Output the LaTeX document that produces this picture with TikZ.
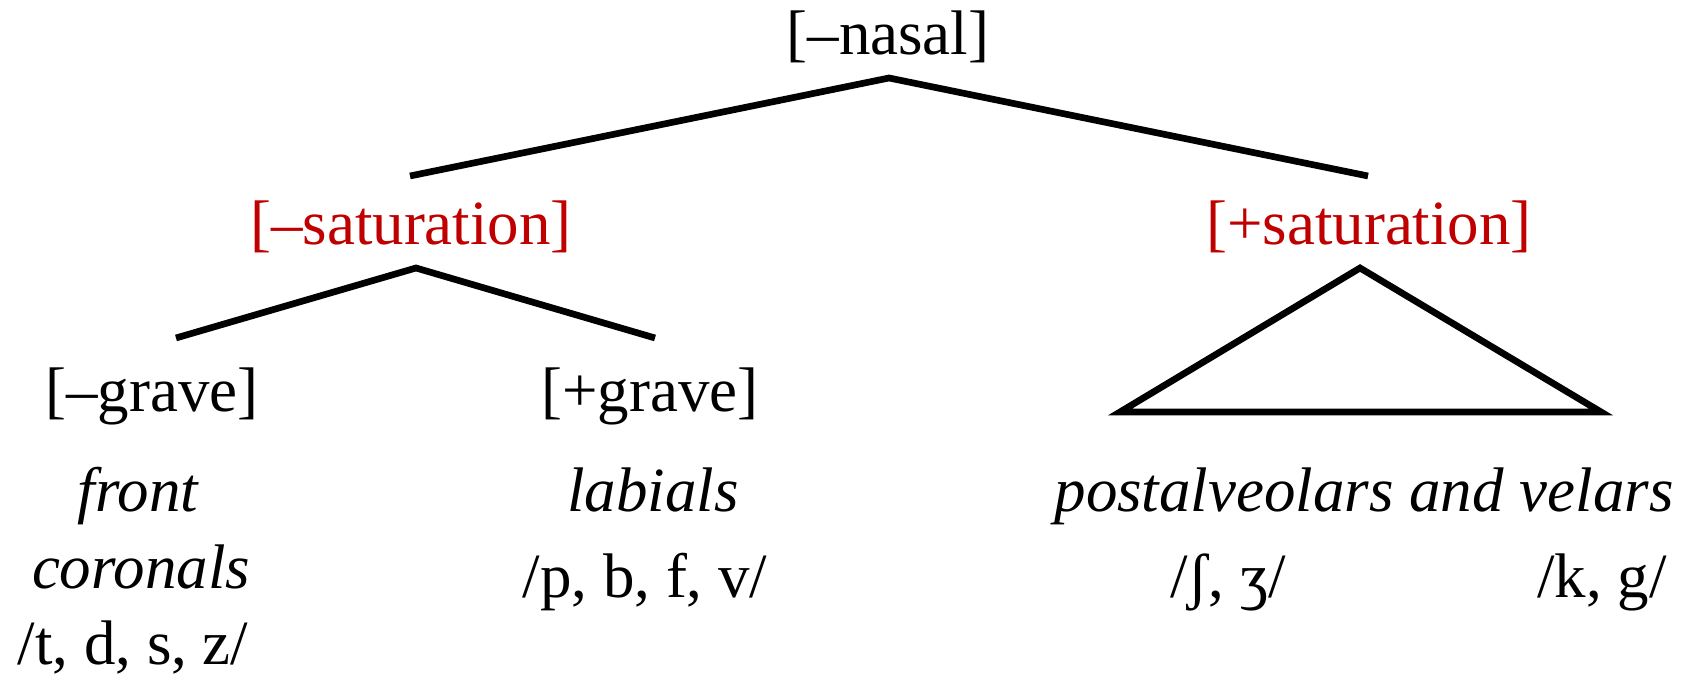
\documentclass[tikz,border=0pt]{standalone}
\usepackage{fontspec}
\setmainfont{Liberation Serif}
\usepackage{xcolor}
\usetikzlibrary{positioning}

\definecolor{featred}{HTML}{C00000}

\begin{document}
\begin{tikzpicture}[x=0.01cm, y=-0.01cm,
    label/.style={anchor=base, inner sep=0pt, font=\fontsize{17.9}{22}\selectfont},
    feat/.style={label, text=black},
    satfeat/.style={label, text=featred},
    branch/.style={line width=1.9pt}]
    \useasboundingbox (0,0) rectangle (1689,677);

    % feature labels
    \node [feat] (nasal) at (888,55) {[–nasal]};
    \node [satfeat] (minussat) at (411,245) {[–saturation]};
    \node [satfeat] (plussat) at (1369,245) {[+saturation]};
    \node [feat] (minusgrave) at (152,412) {[–grave]};
    \node [feat] (plusgrave) at (650,412) {[+grave]};

    % classes and segments
    \node [feat] (front) at (138,512) {\itshape front};
    \node [feat] (coronals) at (141,589) {\itshape coronals};
    \node [feat] (coronalsegs) at (133,665) {/t, d, s, z/};
    \node [feat] (labials) at (653,512) {\itshape labials};
    \node [feat] (labialsegs) at (645,597) {/p, b, f, v/};
    \node [feat] (backs) at (1364,512) {\itshape postalveolars and velars};
    \node [feat] (postsegs) at (1228,597) {/ʃ, ʒ/};
    \node [feat] (velarsegs) at (1602,597) {/k, g/};

    % branch points
    \coordinate (nasal-fork) at (889,78);
    \coordinate (minussat-top) at (410,176);
    \coordinate (plussat-top) at (1368,176);
    \coordinate (minussat-fork) at (416,268);
    \coordinate (minusgrave-top) at (176,338);
    \coordinate (plusgrave-top) at (655,338);
    \coordinate (plussat-fork) at (1360,268);
    \coordinate (tri-left) at (1120,412);
    \coordinate (tri-right) at (1601,412);

    \draw [branch] (minussat-top) -- (nasal-fork) -- (plussat-top);
    \draw [branch] (minusgrave-top) -- (minussat-fork) -- (plusgrave-top);
    \draw [branch] (plussat-fork) -- (tri-left) -- (tri-right) -- cycle;
\end{tikzpicture}
\end{document}
